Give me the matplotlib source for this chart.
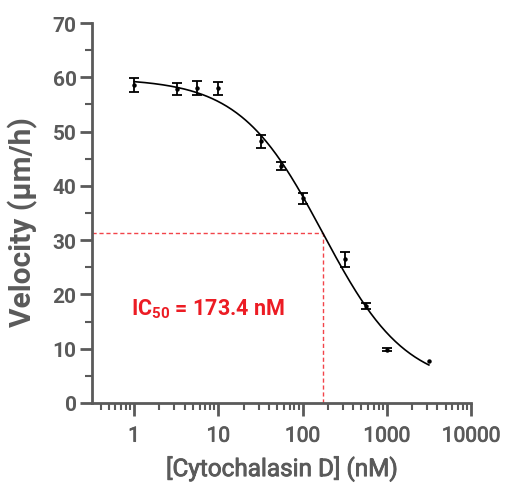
import numpy as np
import matplotlib
matplotlib.use("Agg")
import matplotlib.pyplot as plt
import matplotlib.patheffects as pe
from matplotlib.ticker import LogLocator, FixedLocator, NullFormatter, FixedFormatter

# Data
conc = [1, 3.2, 5.6, 10, 32, 56, 100, 320, 562, 1000, 3162]
velocity = [58.5, 57.8, 58.1, 58.0, 48.2, 43.7, 37.7, 26.5, 17.9, 9.8, 7.7]
err = [1.3, 1.1, 1.3, 1.2, 1.25, 0.7, 1.0, 1.4, 0.5, 0.3, 0.0]

# Fit parameters (4PL)
top, bottom, ic50, hill = 59.8, 2.9, 173.4, 0.88

x_ticks = [1, 10, 100, 1000, 10000]
x_tick_labels = ["1", "10", "100", "1000", "10000"]
y_ticks = [0, 10, 20, 30, 40, 50, 60, 70]

gray = "#5a5a5a"
red = "#ec1c24"
dash_red = "#f2444a"

plt.rcParams["mathtext.fontset"] = "custom"
plt.rcParams["mathtext.rm"] = "Roboto:bold"
plt.rcParams["mathtext.bf"] = "Roboto:bold"
plt.rcParams["mathtext.it"] = "Roboto:bold"

fig = plt.figure(figsize=(5.05, 4.85), dpi=100)
ax = fig.add_axes([92/505, 81/485, 379/505, 380/485])

xf = np.logspace(np.log10(conc[0]), np.log10(conc[-1]), 300)
yf = bottom + (top - bottom) / (1 + (xf / ic50) ** hill)
ax.plot(xf, yf, color="black", lw=1.2, zorder=3)

c = np.array(conc); v = np.array(velocity); e = np.array(err)
m = e > 0
ax.errorbar(c[m], v[m], yerr=e[m], fmt="o", ms=2.2, color="black",
            ecolor="black", elinewidth=1.3, capsize=3.5, capthick=1.3, zorder=4)
ax.plot(c[~m], v[~m], "o", ms=2.2, color="black", zorder=4)

yic = bottom + (top - bottom) / 2
ax.plot([10**-0.5, ic50], [yic, yic], color=dash_red, lw=1, ls=(0, (3, 2)), zorder=2)
ax.plot([ic50, ic50], [0, yic], color=dash_red, lw=1, ls=(0, (3, 2)), zorder=2)

ax.text(0.93, 17.4, r"IC$_{50}$ = 173.4 nM", color=red, fontsize=15.5,
        fontweight="bold", family="Roboto", ha="left", va="center")

ax.set_xscale("log")
ax.set_xlim(10**-0.5, 10**4)
ax.set_ylim(0, 70)
ax.xaxis.set_major_locator(FixedLocator(x_ticks))
ax.xaxis.set_major_formatter(FixedFormatter(x_tick_labels))
ax.xaxis.set_minor_locator(LogLocator(base=10, subs=np.arange(2, 10)))
ax.xaxis.set_minor_formatter(NullFormatter())
ax.yaxis.set_major_locator(FixedLocator(y_ticks))
ax.yaxis.set_minor_locator(FixedLocator([5, 15, 25, 35, 45, 55, 65]))

for s in ["top", "right"]:
    ax.spines[s].set_visible(False)
for s in ["left", "bottom"]:
    ax.spines[s].set_color(gray)
    ax.spines[s].set_linewidth(2)

ax.tick_params(axis="both", which="major", direction="out", length=9, width=2, color=gray,
               labelcolor=gray)
ax.tick_params(axis="both", which="minor", direction="out", length=5, width=1.5, color=gray)
ax.tick_params(axis="y", labelsize=15, pad=2)
ax.tick_params(axis="x", labelsize=15, pad=8)
thick = [pe.withStroke(linewidth=0.6, foreground=gray)]
for lab in ax.get_yticklabels():
    lab.set_family("Roboto"); lab.set_fontweight("bold")
for lab in ax.get_xticklabels():
    lab.set_family("Roboto"); lab.set_path_effects(thick)

ax.set_ylabel("Velocity (µm/h)", fontsize=21.5, fontweight="bold", color=gray,
              family="Roboto")
ax.yaxis.set_label_coords(-0.142, 0.48)
ax.set_xlabel("[Cytochalasin D] (nM)", fontsize=17.5, color=gray,
              family="Roboto", labelpad=8, path_effects=thick)

fig.savefig("out.png", dpi=100)
